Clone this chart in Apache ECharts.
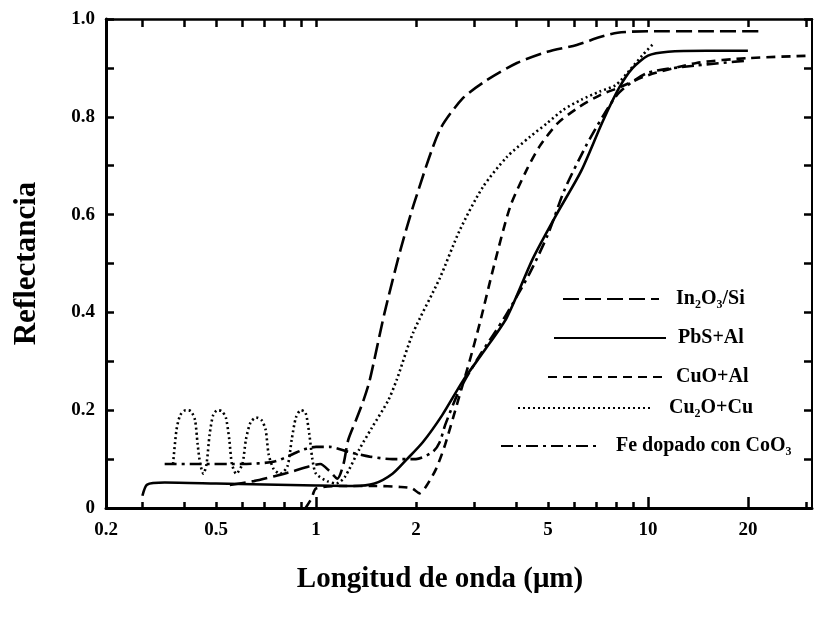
<!DOCTYPE html>
<html>
<head>
<meta charset="utf-8">
<script src="https://cdn.jsdelivr.net/npm/echarts@6/dist/echarts.min.js"></script>
<style>
html,body{margin:0;padding:0;background:#fff;}
#chart{width:817px;height:618px;}
</style>
</head>
<body>
<div id="chart"></div>
<script>
// ---- axis ranges / ticks ----
const xMin = 0.233, xMax = 31.2;
const xTickValues = [0.2, 0.5, 1, 2, 5, 10, 20];
const xTickLabels = ['0.2', '0.5', '1', '2', '5', '10', '20'];
const xMinorTicks = [0.3, 0.4, 0.5, 0.6, 0.7, 0.8, 0.9, 2, 3, 4, 5, 6, 7, 8, 9, 30];
const xMajorTicks = [1, 10, 20];
const yTickValues = [0, 0.2, 0.4, 0.6, 0.8, 1.0];
const yTickLabels = ['0', '0.2', '0.4', '0.6', '0.8', '1.0'];

// ---- series data (wavelength in µm, reflectance) ----
const seriesNames = ['In\u2082O\u2083/Si', 'PbS+Al', 'CuO+Al', 'Cu\u2082O+Cu', 'Fe dopado con CoO\u2083'];

const wlIn2O3 = [0.55, 0.65, 0.75, 0.85, 0.95, 1.03, 1.1, 1.16, 1.21, 1.25, 1.32, 1.39, 1.45, 1.61, 1.8, 1.99, 2.36, 2.77, 3.27, 4.03, 4.97, 6.1, 7.17, 8.1, 10, 15, 22];
const rIn2O3  = [0.047, 0.055, 0.065, 0.075, 0.085, 0.09, 0.075, 0.06, 0.09, 0.139, 0.18, 0.22, 0.26, 0.40, 0.53, 0.63, 0.773, 0.838, 0.875, 0.91, 0.933, 0.947, 0.963, 0.972, 0.975, 0.975, 0.975];

const wlPbS = [0.3, 0.31, 0.35, 0.5, 0.7, 1.0, 1.3, 1.5, 1.7, 1.88, 2.1, 2.4, 2.77, 3.2, 3.76, 4.5, 5.3, 6.3, 7.3, 8.2, 9.0, 10, 11.5, 15, 20];
const rPbS  = [0.025, 0.048, 0.052, 0.05, 0.048, 0.046, 0.045, 0.05, 0.07, 0.1, 0.135, 0.19, 0.26, 0.32, 0.39, 0.51, 0.60, 0.69, 0.79, 0.86, 0.9, 0.925, 0.933, 0.935, 0.935];

const wlCuO = [0.93, 0.97, 1.0, 1.2, 1.5, 1.8, 1.95, 2.05, 2.15, 2.3, 2.45, 2.68, 2.9, 3.12, 3.45, 3.84, 4.3, 4.72, 5.35, 6.2, 7.2, 8.2, 10, 14, 20, 31];
const rCuO  = [0.0, 0.02, 0.04, 0.045, 0.045, 0.043, 0.04, 0.03, 0.045, 0.08, 0.13, 0.22, 0.30, 0.38, 0.50, 0.615, 0.69, 0.74, 0.787, 0.82, 0.845, 0.86, 0.885, 0.91, 0.92, 0.925];

const wlCu2O = [0.371, 0.38, 0.39, 0.405, 0.42, 0.432, 0.44, 0.448, 0.458, 0.468, 0.478, 0.49, 0.505, 0.52, 0.535, 0.548, 0.558, 0.575, 0.6, 0.615, 0.635, 0.66, 0.685, 0.705, 0.72, 0.745, 0.78, 0.82, 0.845, 0.87, 0.9, 0.93, 0.955, 0.975, 1.0, 1.08, 1.15, 1.22, 1.35, 1.47, 1.65, 1.75, 1.96, 2.36, 2.71, 3.18, 3.76, 4.41, 4.97, 5.55, 6.3, 7.17, 8.0, 8.8, 9.6, 10.4];
const rCu2O  = [0.09, 0.16, 0.19, 0.2, 0.198, 0.18, 0.13, 0.09, 0.07, 0.09, 0.15, 0.19, 0.2, 0.198, 0.185, 0.14, 0.09, 0.07, 0.09, 0.14, 0.175, 0.185, 0.18, 0.16, 0.11, 0.08, 0.07, 0.085, 0.14, 0.185, 0.2, 0.195, 0.15, 0.1, 0.07, 0.055, 0.05, 0.063, 0.12, 0.163, 0.22, 0.262, 0.358, 0.47, 0.568, 0.656, 0.718, 0.759, 0.787, 0.814, 0.835, 0.852, 0.865, 0.895, 0.925, 0.95];

const wlFe = [0.35, 0.45, 0.6, 0.75, 0.85, 0.92, 1.0, 1.1, 1.25, 1.45, 1.7, 2.0, 2.25, 2.36, 2.45, 2.7, 3.1, 3.7, 4.4, 5.0, 5.6, 6.5, 7.3, 8.2, 10, 14, 20];
const rFe  = [0.09, 0.09, 0.09, 0.095, 0.11, 0.12, 0.125, 0.125, 0.115, 0.105, 0.1, 0.1, 0.115, 0.135, 0.17, 0.24, 0.31, 0.39, 0.48, 0.56, 0.65, 0.74, 0.8, 0.85, 0.89, 0.905, 0.915];

// ---- build ----
const FONT = "'Liberation Serif', 'Times New Roman', serif";
const lmin = Math.log10(xMin), lmax = Math.log10(xMax);
const labelPos = xTickValues.map(v => Math.max(Math.log10(v), lmin));
const minorPos = xMinorTicks.map(v => Math.log10(v)).filter(v => v <= lmax);
const majorPos = xMajorTicks.map(v => Math.log10(v));
function xLabel(val) {
  for (let i = 0; i < labelPos.length; i++) if (Math.abs(labelPos[i] - val) < 1e-6) return xTickLabels[i];
  return '';
}
function yLabel(val) {
  for (let i = 0; i < yTickValues.length; i++) if (Math.abs(yTickValues[i] - val) < 1e-6) return yTickLabels[i];
  return '';
}
const pairs = (xs, ys) => xs.map((x, i) => [x, ys[i]]);
const dashes = [[16, 6], 'solid', [9, 6], [2, 3], [12, 5, 3, 5]];
const dataSets = [pairs(wlIn2O3, rIn2O3), pairs(wlPbS, rPbS), pairs(wlCuO, rCuO), pairs(wlCu2O, rCu2O), pairs(wlFe, rFe)];

const series = seriesNames.map((n, i) => ({
  name: n, type: 'line', xAxisIndex: 0, yAxisIndex: 0,
  data: dataSets[i], symbol: 'none', smooth: 0.25,
  lineStyle: { color: '#000', width: 2.6, type: dashes[i] },
  itemStyle: { color: '#000' },
  animation: false
}));

// legend layout: [left, width, centerY, textPad]
const legendLayout = [[562, 96, 299, 12], [553, 112, 338, 7], [547, 116, 377, 7], [517, 135, 408, 11], [500, 95, 446, 15]];
const legends = seriesNames.map((n, i) => ({
  data: [n], left: legendLayout[i][0], top: legendLayout[i][2] - 10,
  itemWidth: legendLayout[i][1], itemHeight: 20, padding: 0,
  selectedMode: false, itemStyle: { opacity: 0 },
  textStyle: { fontFamily: FONT, fontWeight: 'bold', fontSize: 20, color: '#000', padding: [0, 0, 0, legendLayout[i][3]] }
}));

const chart = echarts.init(document.getElementById('chart'), null, { renderer: 'canvas' });
chart.setOption({
  animation: false,
  backgroundColor: '#fff',
  grid: { left: 106, right: 5, top: 19, bottom: 110, containLabel: false },
  legend: legends,
  xAxis: [
    { type: 'log', logBase: 10, min: xMin, max: xMax, position: 'bottom',
      axisLine: { show: true, onZero: false, lineStyle: { color: '#000', width: 3 } },
      axisTick: { show: false }, axisLabel: { show: false }, splitLine: { show: false }, minorTick: { show: false } },
    { type: 'value', min: lmin, max: lmax, position: 'bottom',
      axisLine: { show: false, onZero: false },
      axisTick: { show: true, inside: true, length: 6, customValues: minorPos, lineStyle: { color: '#000', width: 2.5 } },
      axisLabel: { show: true, customValues: labelPos, formatter: xLabel, margin: 13, fontFamily: FONT, fontWeight: 'bold', fontSize: 19, color: '#000' },
      splitLine: { show: false },
      name: 'Longitud de onda (\u03bcm)', nameLocation: 'middle', nameGap: 57,
      nameTextStyle: { fontFamily: FONT, fontWeight: 'bold', fontSize: 29, color: '#000', padding: [0, 38, 0, 0] } },
    { type: 'value', min: lmin, max: lmax, position: 'bottom',
      axisLine: { show: false, onZero: false },
      axisTick: { show: true, inside: true, length: 11, customValues: majorPos, lineStyle: { color: '#000', width: 2.5 } },
      axisLabel: { show: false }, splitLine: { show: false } },
    { type: 'value', min: lmin, max: lmax, position: 'top',
      axisLine: { show: true, onZero: false, lineStyle: { color: '#000', width: 2.5 } },
      axisTick: { show: true, inside: true, length: 8, customValues: minorPos.concat(majorPos), lineStyle: { color: '#000', width: 2.5 } },
      axisLabel: { show: false }, splitLine: { show: false } }
  ],
  yAxis: [
    { type: 'value', min: 0, max: 1, interval: 0.2, position: 'left',
      axisLine: { show: true, onZero: false, lineStyle: { color: '#000', width: 3 } },
      axisTick: { show: true, inside: true, length: 8, lineStyle: { color: '#000', width: 2.5 } },
      minorTick: { show: true, splitNumber: 2, length: 8, lineStyle: { color: '#000', width: 2.5 } },
      axisLabel: { formatter: yLabel, margin: 11, fontFamily: FONT, fontWeight: 'bold', fontSize: 19, color: '#000' },
      splitLine: { show: false },
      name: 'Reflectancia', nameLocation: 'middle', nameGap: 64,
      nameTextStyle: { fontFamily: FONT, fontWeight: 'bold', fontSize: 31, color: '#000' } },
    { type: 'value', min: 0, max: 1, interval: 0.1, position: 'right',
      axisLine: { show: true, onZero: false, lineStyle: { color: '#000', width: 2 } },
      axisTick: { show: true, inside: true, length: 8, lineStyle: { color: '#000', width: 2.5 } },
      axisLabel: { show: false }, splitLine: { show: false } }
  ],
  series: series
});
</script>
</body>
</html>
